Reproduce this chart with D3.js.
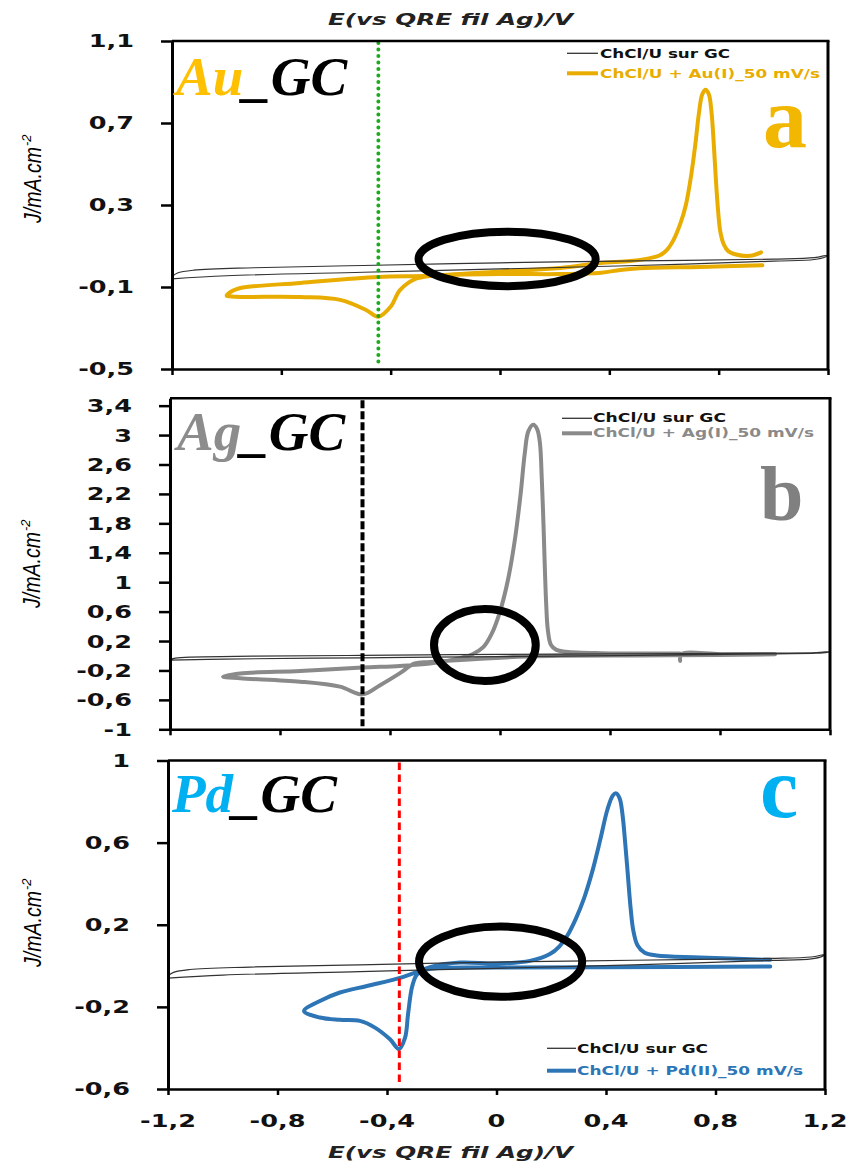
<!DOCTYPE html>
<html><head><meta charset="utf-8">
<script src="https://cdn.jsdelivr.net/npm/d3@7"></script>
<style>body{margin:0;background:#fff} svg{display:block}</style>
</head><body><svg id="chart" width="851" height="1163"></svg>
<script>
// ---------- data ----------
const xTicks = [-1.2, -0.8, -0.4, 0, 0.4, 0.8, 1.2];
const yTicksA = [-0.5, -0.1, 0.3, 0.7, 1.1];
const yTicksB = [-1, -0.6, -0.2, 0.2, 0.6, 1, 1.4, 1.8, 2.2, 2.6, 3, 3.4];
const yTicksC = [-0.6, -0.2, 0.2, 0.6, 1];

// blank electrolyte ChCl/U on GC  [E (V), J (mA/cm2)]
const blankCV = [[-1.2,-0.05],[-1.18,-0.032],[-1.12,-0.018],[-0.9,-0.006],[-0.5,0.005],[0,0.018],[0.5,0.027],[1.0,0.036],[1.15,0.043],[1.2,0.055],
  [1.19,0.046],[1.15,0.034],[1.0,0.026],[0.5,0.005],[0,-0.012],[-0.5,-0.028],[-1.0,-0.045],[-1.2,-0.06]];

// ChCl/U + Au(I)
const auCV = [[0.96,0.006],[0.73,-0.002],[0.51,-0.009],[0.44,-0.017],[0.37,-0.03],[0.22,-0.037],[0,-0.037],[-0.256,-0.046],[-0.31,-0.061],
  [-0.366,-0.115],[-0.40,-0.196],[-0.445,-0.245],[-0.49,-0.212],[-0.585,-0.163],[-0.73,-0.149],[-0.97,-0.147],[-1.0,-0.142],[-0.98,-0.12],
  [-0.95,-0.105],[-0.73,-0.08],[-0.445,-0.051],[-0.256,-0.045],[0,-0.024],[0.22,-0.007],[0.366,0.017],[0.476,0.027],[0.549,0.041],
  [0.585,0.055],[0.61,0.08],[0.635,0.13],[0.66,0.21],[0.68,0.3],[0.70,0.45],[0.715,0.6],[0.728,0.75],[0.74,0.84],[0.752,0.862],
  [0.764,0.84],[0.774,0.75],[0.782,0.6],[0.79,0.42],[0.798,0.27],[0.806,0.17],[0.818,0.11],[0.835,0.075],[0.86,0.06],[0.915,0.052],[0.955,0.069]];

// ChCl/U + Ag(I)
const agCV = [[0.655,-0.07],[0.66,0.02],[0.8,0.022],[1.0,0.02],[0.8,0.01],[0.5,0.005],[0.22,0.0],[0.1,-0.01],[-0.07,-0.04],[-0.255,-0.085],
  [-0.31,-0.105],[-0.365,-0.24],[-0.436,-0.4],[-0.5,-0.525],[-0.582,-0.42],[-0.727,-0.352],[-0.945,-0.306],[-1.007,-0.285],[-0.945,-0.24],
  [-0.727,-0.208],[-0.5,-0.16],[-0.364,-0.138],[-0.255,-0.107],[-0.18,-0.06],[-0.1,0.02],[-0.06,0.12],[-0.03,0.3],[0,0.6],[0.03,1.05],
  [0.055,1.6],[0.075,2.2],[0.09,2.75],[0.103,3.05],[0.121,3.14],[0.135,3.08],[0.145,2.9],[0.152,2.4],[0.158,1.8],[0.163,1.2],[0.168,0.7],
  [0.174,0.35],[0.185,0.15],[0.205,0.08],[0.24,0.055],[0.364,0.035],[0.655,0.03]];

// ChCl/U + Pd(II)
const pdCV = [[1.0,-0.003],[0.38,-0.007],[0,-0.008],[-0.243,-0.015],[-0.28,-0.033],[-0.294,-0.049],[-0.309,-0.106],[-0.323,-0.234],
  [-0.334,-0.35],[-0.356,-0.405],[-0.389,-0.358],[-0.444,-0.301],[-0.499,-0.268],[-0.572,-0.263],[-0.645,-0.252],[-0.703,-0.22],
  [-0.645,-0.171],[-0.572,-0.13],[-0.473,-0.098],[-0.356,-0.06],[-0.298,-0.033],[-0.24,-0.005],[-0.133,0.016],[0.002,0.011],
  [0.122,0.024],[0.195,0.057],[0.23,0.095],[0.26,0.15],[0.29,0.23],[0.32,0.33],[0.35,0.46],[0.38,0.62],[0.405,0.76],[0.425,0.83],
  [0.437,0.84],[0.45,0.815],[0.46,0.74],[0.47,0.6],[0.48,0.44],[0.49,0.28],[0.5,0.17],[0.515,0.1],[0.54,0.065],[0.585,0.05],
  [0.743,0.041],[0.999,0.029]];

// peak potential markers (V)
const markerE = [-0.445, -0.5, -0.355];
// annotation ellipses [E centre, J centre, E radius, J radius]
const ellipseA = [0.026, 0.037, 0.324, 0.133];
const ellipseB = [-0.055, 0.146, 0.185, 0.49];
const ellipseC = [0.015, 0.02, 0.298, 0.171];

const blankLabel = "ChCl/U sur GC";
const seriesLabels = ["ChCl/U + Au(I)_50 mV/s", "ChCl/U + Ag(I)_50 mV/s", "ChCl/U + Pd(II)_50 mV/s"];
const metalNames = ["Au", "Ag", "Pd"];
const panelLetters = ["a", "b", "c"];
const axisTitleX = "E(vs QRE fil Ag)/V";
const axisTitleY = "J/mA.cm";

// ---------- layout ----------
const panels = [
  {left:172, right:828, top:41, bottom:369, yDomain:[-0.5,1.1], yTicks:yTicksA, curve:auCV, ell:ellipseA,
   color:'#E8AD00', nameColor:'#FFC000', letterColor:'#F2B700', marker:{color:'#1DAA1D', width:4, dash:'0.1 6.4', cap:'round'},
   legend:{x1:567, x2:598, y1:53.3, y2:73.3, tx:600, b1:57.6, b2:78, w1:130, w2:220},
   name:{x:176, y:95, size:55}, letter:{x:763, y:147, size:88}, ylab:{x:41, y:223}},
  {left:170, right:830, top:398.3, bottom:729.3, yDomain:[-1,3.5], yTicks:yTicksB, curve:agCV, ell:ellipseB,
   color:'#8A8A8A', nameColor:'#8C8C8C', letterColor:'#808080', marker:{color:'#000', width:4, dash:'8 3', cap:'butt'},
   legend:{x1:562, x2:592, y1:418.3, y2:433.3, tx:593, b1:422.4, b2:437.4, w1:133, w2:221},
   name:{x:177, y:450, size:55}, letter:{x:760, y:520, size:78}, ylab:{x:40, y:608}},
  {left:168, right:825, top:760.5, bottom:1089, yDomain:[-0.6,1], yTicks:yTicksC, curve:pdCV, ell:ellipseC,
   color:'#2E75B6', nameColor:'#00B0F0', letterColor:'#00B0F0', marker:{color:'#FF0000', width:3, dash:'7.5 4.5', cap:'butt'},
   legend:{x1:547, x2:576, y1:1048.3, y2:1070.7, tx:577, b1:1052.6, b2:1075.2, w1:131, w2:226},
   name:{x:172, y:812, size:55}, letter:{x:760, y:817, size:86}, ylab:{x:41, y:967}, xLabels:true}
];

const svg = d3.select('#chart');
const fmt = v => String(v).replace('.', ',');

panels.forEach((p, i) => {
  const x = d3.scaleLinear().domain([-1.2, 1.2]).range([p.left, p.right]);
  const y = d3.scaleLinear().domain(p.yDomain).range([p.bottom, p.top]);
  const g = svg.append('g');
  const line = d3.line().x(d => x(d[0])).y(d => y(d[1])).curve(d3.curveCatmullRom.alpha(0.5));

  // colored CV
  g.append('path').datum(p.curve).attr('d', line).attr('fill', 'none')
    .attr('stroke', p.color).attr('stroke-width', 4).attr('stroke-linejoin', 'round').attr('stroke-linecap', 'round');
  // blank CV
  g.append('path').datum(blankCV).attr('d', line).attr('fill', 'none')
    .attr('stroke', '#333').attr('stroke-width', 1.2);

  // marker vertical line
  g.append('line').attr('x1', x(markerE[i])).attr('x2', x(markerE[i]))
    .attr('y1', p.top + 2).attr('y2', p.bottom - 3)
    .attr('stroke', p.marker.color).attr('stroke-width', p.marker.width)
    .attr('stroke-dasharray', p.marker.dash).attr('stroke-linecap', p.marker.cap);

  // frame: top and right
  g.append('line').attr('x1', p.left).attr('x2', p.right + 1.5).attr('y1', p.top).attr('y2', p.top)
    .attr('stroke', '#000').attr('stroke-width', 2.5);
  g.append('line').attr('x1', p.right).attr('x2', p.right).attr('y1', p.top).attr('y2', p.bottom)
    .attr('stroke', '#000').attr('stroke-width', 3);

  // axes
  const yAxis = d3.axisLeft(y).tickValues(p.yTicks).tickSize(11).tickSizeOuter(0).tickFormat('');
  const ya = g.append('g').attr('transform', `translate(${p.left},0)`).call(yAxis);
  ya.select('.domain').attr('stroke-width', 3);
  ya.selectAll('.tick line').attr('stroke-width', 2.5);
  const xAxis = d3.axisBottom(x).tickValues(xTicks).tickSize(6).tickSizeOuter(0).tickFormat('');
  const xa = g.append('g').attr('transform', `translate(0,${p.bottom})`).call(xAxis);
  xa.select('.domain').attr('stroke-width', 2.5);
  xa.selectAll('.tick line').attr('stroke-width', 2.5);

  // y tick labels
  p.yTicks.forEach(v => {
    g.append('text').attr('transform', `translate(${p.left - 38},${y(v)}) scale(1.42,1)`)
      .attr('text-anchor', 'end').attr('dy', '0.36em')
      .attr('font-family', 'DejaVu Sans').attr('font-weight', 'bold').attr('font-size', 18)
      .attr('fill', '#111').text(fmt(v));
  });
  if (p.xLabels) {
    xTicks.forEach(v => {
      g.append('text').attr('transform', `translate(${x(v)},${p.bottom + 38}) scale(1.42,1)`)
        .attr('text-anchor', 'middle')
        .attr('font-family', 'DejaVu Sans').attr('font-weight', 'bold').attr('font-size', 18)
        .attr('fill', '#111').text(fmt(v));
    });
  }

  // y axis title (rotated)
  const yl = g.append('g').attr('transform', `translate(${p.ylab.x},${p.ylab.y}) rotate(-90)`);
  yl.append('text').attr('x', 0).attr('y', 0).attr('font-family', 'Liberation Sans').attr('font-style', 'italic')
    .attr('font-size', 23).attr('fill', '#000').attr('textLength', 76).attr('lengthAdjust', 'spacingAndGlyphs').text(axisTitleY);
  yl.append('text').attr('x', 77).attr('y', -10).attr('font-family', 'Liberation Sans').attr('font-style', 'italic')
    .attr('font-size', 13).attr('fill', '#000').text('-2');

  // legend
  const L = p.legend;
  g.append('line').attr('x1', L.x1).attr('x2', L.x2).attr('y1', L.y1).attr('y2', L.y1).attr('stroke', '#333').attr('stroke-width', 1.3);
  g.append('line').attr('x1', L.x1).attr('x2', L.x2).attr('y1', L.y2).attr('y2', L.y2).attr('stroke', p.color).attr('stroke-width', 4);
  g.append('text').attr('x', L.tx).attr('y', L.b1).attr('font-family', 'DejaVu Sans').attr('font-weight', 'bold')
    .attr('font-size', 12).attr('fill', '#111').attr('textLength', L.w1).attr('lengthAdjust', 'spacingAndGlyphs').text(blankLabel);
  g.append('text').attr('x', L.tx).attr('y', L.b2).attr('font-family', 'DejaVu Sans').attr('font-weight', 'bold')
    .attr('font-size', 12).attr('fill', p.color).attr('textLength', L.w2).attr('lengthAdjust', 'spacingAndGlyphs').text(seriesLabels[i]);

  // metal name label
  const nt = g.append('text').attr('x', p.name.x).attr('y', p.name.y).attr('font-family', 'Liberation Serif')
    .attr('font-weight', 'bold').attr('font-style', 'italic').attr('font-size', p.name.size);
  nt.append('tspan').attr('fill', p.nameColor).text(metalNames[i]);
  nt.append('tspan').attr('fill', '#000').text('_GC');

  // panel letter
  g.append('text').attr('x', p.letter.x).attr('y', p.letter.y).attr('font-family', 'Liberation Serif')
    .attr('font-weight', 'bold').attr('font-size', p.letter.size).attr('fill', p.letterColor).text(panelLetters[i]);

  // annotation ellipse
  const e = p.ell;
  g.append('ellipse').attr('cx', x(e[0])).attr('cy', y(e[1]))
    .attr('rx', x(e[0] + e[2]) - x(e[0])).attr('ry', y(e[1]) - y(e[1] + e[3]))
    .attr('fill', 'none').attr('stroke', '#000').attr('stroke-width', 8);
});

// x axis titles (top and bottom)
[25, 1158].forEach(yy => {
  svg.append('text').attr('x', 328).attr('y', yy).attr('font-family', 'DejaVu Sans').attr('font-weight', 'bold')
    .attr('font-style', 'italic').attr('font-size', 16).attr('fill', '#222')
    .attr('textLength', 245).attr('lengthAdjust', 'spacingAndGlyphs').text(axisTitleX);
});
</script></body></html>
